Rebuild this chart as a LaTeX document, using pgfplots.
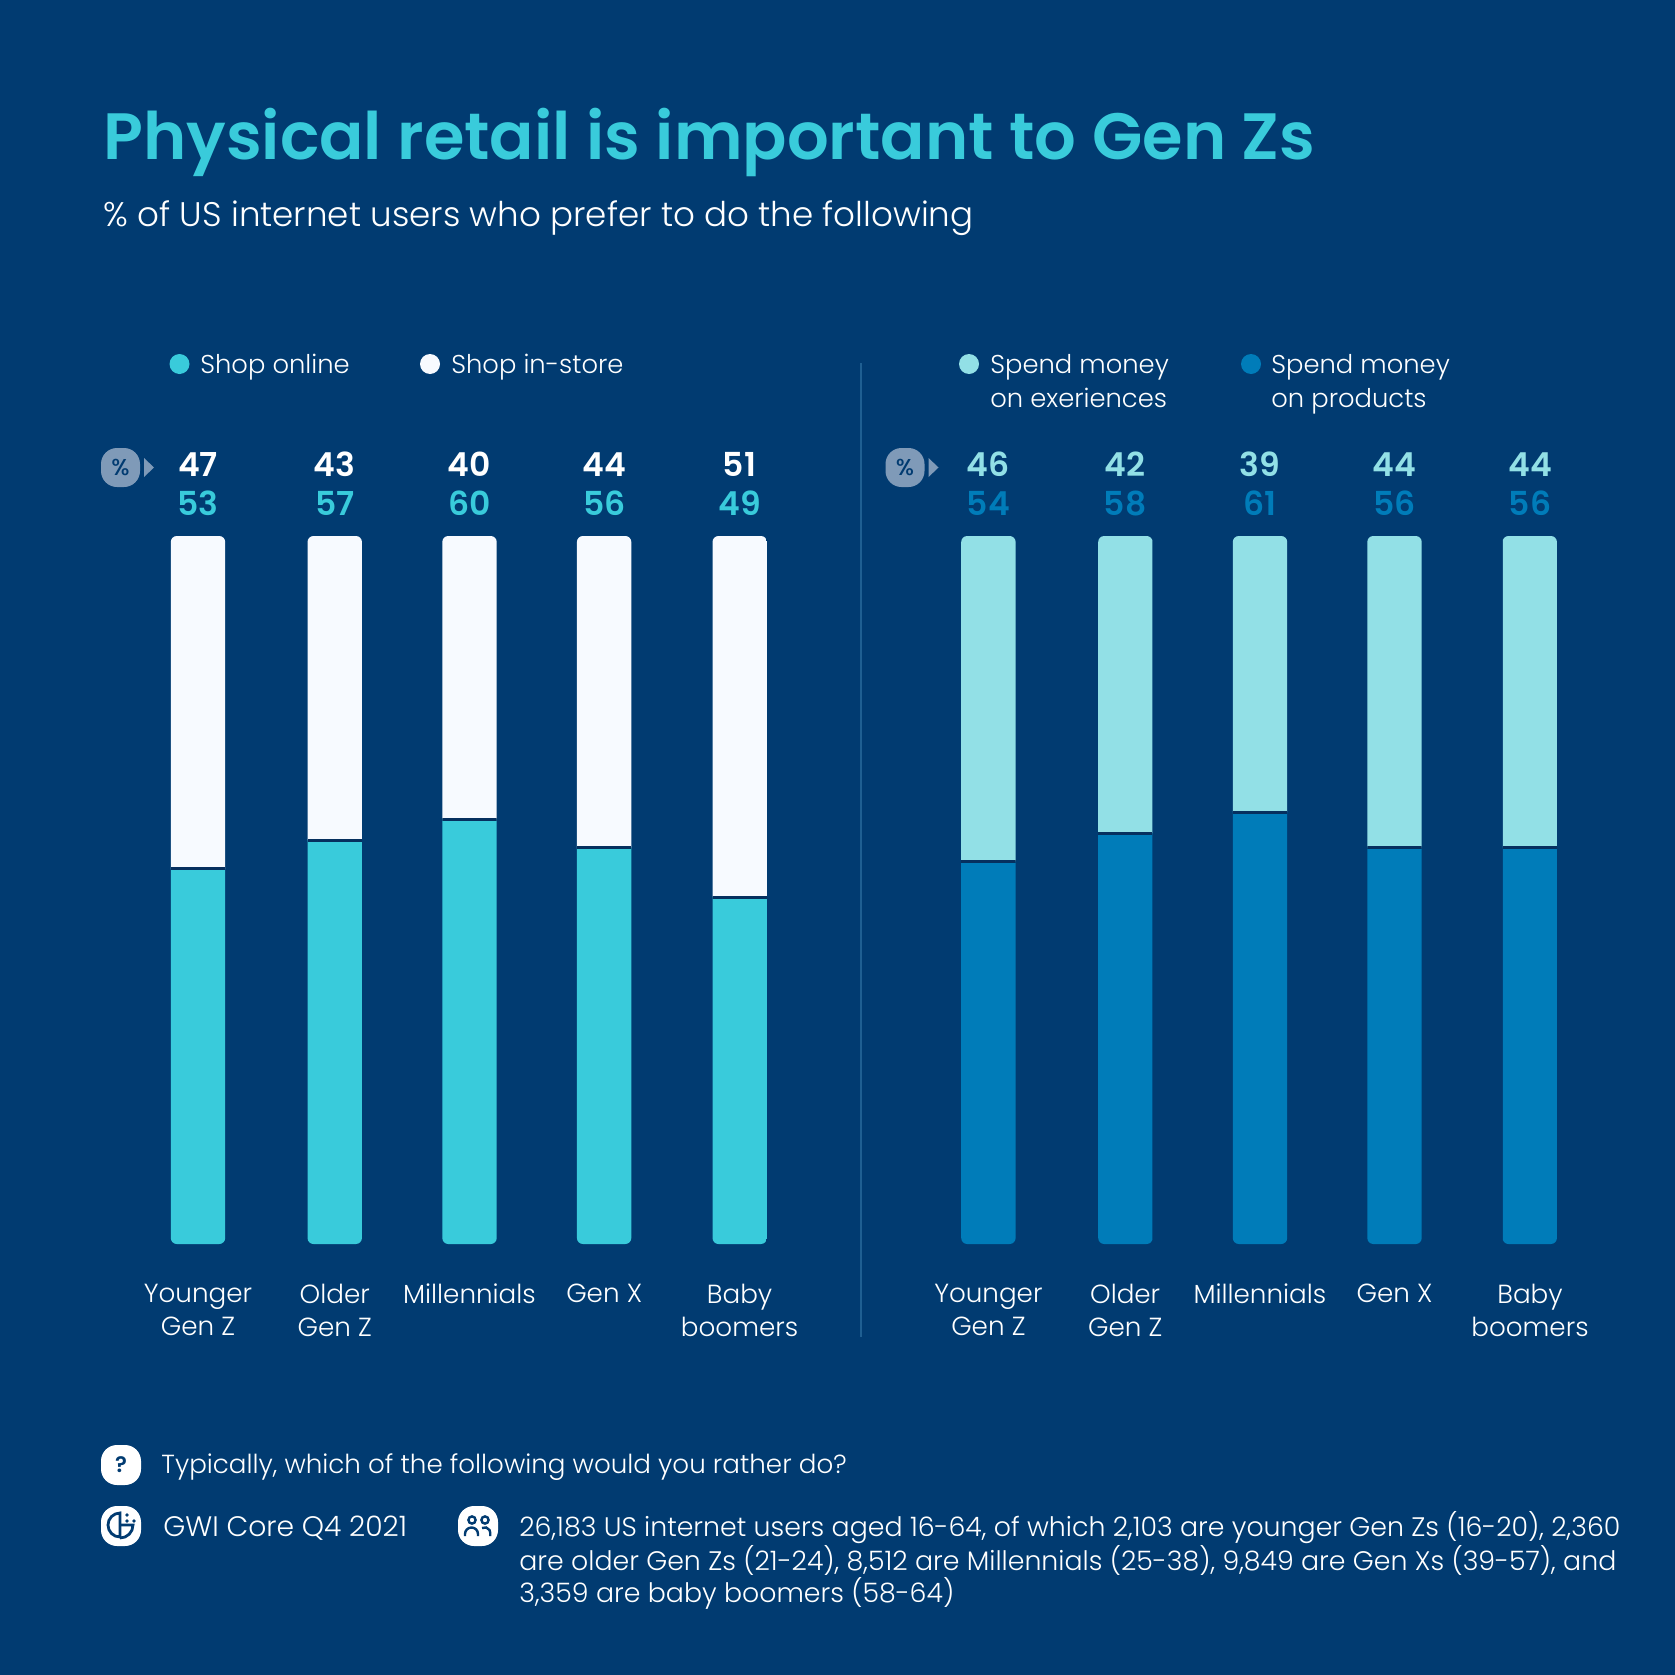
\documentclass[border=0pt]{standalone}
\usepackage{fontspec}
\usepackage{pgfplots}
\usepackage{pgfplotstable}
\pgfplotsset{compat=1.18}
\setmainfont{Poppins Light}
\newfontfamily\semib{Poppins SemiBold}
\newfontfamily\medf{Poppins Medium}
\definecolor{bg}{HTML}{013B71}
\definecolor{cy}{HTML}{39CBDB}
\definecolor{wh}{HTML}{F7FAFF}
\definecolor{pa}{HTML}{92E0E6}
\definecolor{db}{HTML}{007CB9}
\definecolor{sep}{HTML}{06305F}
\definecolor{bad}{HTML}{7F9AB8}
\definecolor{dv}{HTML}{1F5F92}
\pgfplotstableread{
x v1 v2 name
0     53 47 a
1.01  57 43 b
2.005 60 40 c
3     56 44 d
4     49 51 e
}\shopdata
\pgfplotstableread{
x v1 v2 name
0     54 46 a
1.01  58 42 b
2.005 61 39 c
3     56 44 d
4     56 44 e
}\spenddata
\pgfplotsset{
  basis/.style={scale only axis,width=338.5pt,height=354pt,xmin=-0.5,xmax=4.5,ymin=0,ymax=100,
    axis line style={draw=none},major tick length=0pt,ytick=\empty,clip=false,anchor=south west},
  bars/.style={basis,ybar stacked,bar width=27.2pt,xtick=\empty},
  labs/.style={basis,xtick={0,1.01,2.005,3,4},
    xticklabels={{Younger\\Gen Z},{Older\\Gen Z},Millennials,Gen X,{Baby\\boomers}},
    xticklabel style={text=white,align=center,anchor=north,inner sep=0pt,yshift=-19.8pt,
      font=\fontsize{13.1}{16.7}\selectfont}},
  val/.style={draw=none,mark=none,point meta=explicit symbolic,nodes near coords,
    every node near coord/.append style={anchor=base,inner sep=0pt,yshift=#1,
      font=\semib\fontsize{16.5}{18}\selectfont}},
}
\newcommand{\badge}[1]{%
  \fill[bad,rounded corners=8pt] (#1,448) rectangle ++(39,39);
  \node[text=bg,inner sep=0pt,font=\medf\fontsize{11.5}{12}\selectfont] at (#1+19.5,467.5) {\%};
  \fill[bad] (#1+43,458) -- (#1+53,467.5) -- (#1+43,477) -- cycle;}
\newcommand{\leg}[4]{%
  \fill[#1] (#2,364) circle (10);
  \node[anchor=base west,inner sep=0pt,text=white,font=\fontsize{12.9}{16}\selectfont] at (#3,373) {#4};}
\newcommand{\legb}[2]{%
  \node[anchor=base west,inner sep=0pt,text=white,font=\fontsize{12.9}{16}\selectfont] at (#1,407) {#2};}
\begin{document}
\begin{tikzpicture}[x=0.5pt,y=-0.5pt]
\useasboundingbox (0,0) rectangle (1675,1675);
\fill[bg] (0,0) rectangle (1675,1675);
% title
\node[anchor=base west,inner sep=0pt,text=cy,font=\semib\fontsize{32.75}{36}\selectfont] at (103,160) {Physical retail is important to Gen Zs};
\node[anchor=base west,inner sep=0pt,text=white,font=\fontsize{17.05}{20}\selectfont] at (103,226) {\% of US internet users who prefer to do the following};
% legends
\leg{cy}{179.5}{200}{Shop online}
\leg{wh}{430}{451}{Shop in-store}
\leg{pa}{969}{990}{Spend money}\legb{990}{on exeriences}
\leg{db}{1251}{1271}{Spend money}\legb{1271}{on products}
\badge{101}
\badge{885.5}
\draw[dv,line width=1pt] (861,363) -- (861,1337);
% clipped bars
\begin{scope}
\clip[rounded corners=3pt]
  (170.8,536) rectangle (225.2,1244) (307.5,536) rectangle (361.9,1244)
  (442.3,536) rectangle (496.7,1244) (576.9,536) rectangle (631.3,1244)
  (712.5,536) rectangle (766.9,1244);
\begin{axis}[bars,at={(65.15pt,-622pt)}]
\addplot[fill=cy,draw=none] table[x=x,y=v1]{\shopdata};
\addplot[fill=wh,draw=none] table[x=x,y=v2]{\shopdata};
\end{axis}
\begin{axis}[basis,xtick=\empty,at={(65.15pt,-622pt)}]
\addplot[only marks,mark=-,mark size=13.6pt,mark options={draw=sep,line width=1.5pt}] table[x=x,y=v1]{\shopdata};
\end{axis}
\end{scope}
\begin{scope}
\clip[rounded corners=3pt]
  (961.2,536) rectangle (1015.6,1244) (1098.2,536) rectangle (1152.6,1244)
  (1232.8,536) rectangle (1287.2,1244) (1367.3,536) rectangle (1421.7,1244)
  (1502.5,536) rectangle (1556.9,1244);
\begin{axis}[bars,at={(460.35pt,-622pt)}]
\addplot[fill=db,draw=none] table[x=x,y=v1]{\spenddata};
\addplot[fill=pa,draw=none] table[x=x,y=v2]{\spenddata};
\end{axis}
\begin{axis}[basis,xtick=\empty,at={(460.35pt,-622pt)}]
\addplot[only marks,mark=-,mark size=13.6pt,mark options={draw=sep,line width=1.5pt}] table[x=x,y=v1]{\spenddata};
\end{axis}
\end{scope}
% labels
\begin{axis}[labs,at={(65.15pt,-622pt)}]
\addplot[val=30pt,nodes near coords style={text=white}] table[x=x,y expr=100,meta=v2]{\shopdata};
\addplot[val=10.5pt,nodes near coords style={text=cy}] table[x=x,y expr=100,meta=v1]{\shopdata};
\end{axis}
\begin{axis}[labs,at={(460.35pt,-622pt)}]
\addplot[val=30pt,nodes near coords style={text=pa}] table[x=x,y expr=100,meta=v2]{\spenddata};
\addplot[val=10.5pt,nodes near coords style={text=db}] table[x=x,y expr=100,meta=v1]{\spenddata};
\end{axis}
% footer
\fill[white,rounded corners=8pt] (101,1445) rectangle (141,1485);
\node[text=bg,inner sep=0pt,font=\semib\fontsize{11}{12}\selectfont] at (121,1465) {?};
\node[anchor=base west,inner sep=0pt,text=white,font=\fontsize{13.08}{16}\selectfont] at (161,1473) {Typically, which of the following would you rather do?};
\fill[white,rounded corners=8pt] (101,1506) rectangle (141,1546);
\draw[bg,line width=1.4pt] (120,1513) arc (-90:-270:12) -- cycle;
\draw[bg,line width=1.4pt] (120,1525) -- (133,1525) arc (0:90:13) ;
\fill[bg] (127,1515) circle (1.8) (127,1521) circle (1.8) (134,1521) circle (1.8);
\node[anchor=base west,inner sep=0pt,text=white,font=\fontsize{14.1}{16}\selectfont] at (163,1536) {GWI Core Q4 2021};
\fill[white,rounded corners=8pt] (458,1506) rectangle (498,1546);
\draw[bg,line width=1.2pt] (472,1520) circle (3.6) (485,1520) circle (3.6);
\draw[bg,line width=1.2pt] (465,1536) -- (465,1534) arc (180:360:6.5) -- (478,1536);
\draw[bg,line width=1.2pt] (482,1528) arc (-120:0:5.5) -- (490.25,1536);
\node[anchor=north west,inner sep=0pt,text=white,align=left,font=\fontsize{13.4}{16}\selectfont] at (519,1511) {26,183 US internet users aged 16-64, of which 2,103 are younger Gen Zs (16-20), 2,360\\are older Gen Zs (21-24), 8,512 are Millennials (25-38), 9,849 are Gen Xs (39-57), and\\3,359 are baby boomers (58-64)};
\end{tikzpicture}
\end{document}
